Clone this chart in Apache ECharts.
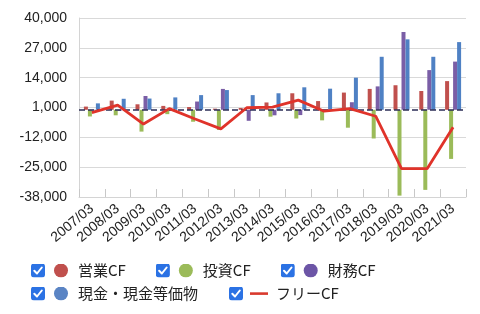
<!DOCTYPE html>
<html>
<head>
<meta charset="utf-8">
<script src="https://cdn.jsdelivr.net/npm/echarts@6/dist/echarts.min.js"></script>
<style>
html,body{margin:0;padding:0;background:#fff;}
#chart{width:480px;height:314px;}
</style>
</head>
<body>
<div id="chart"></div>
<script>
const categories = ['2007/03','2008/03','2009/03','2010/03','2011/03','2012/03','2013/03','2014/03','2015/03','2016/03','2017/03','2018/03','2019/03','2020/03','2021/03'];
const operatingCF = [1400, 4000, 2400, 1700, 1200, 500, 800, 3200, 7200, 3800, 7500, 9100, 10700, 8200, 12500];
const investingCF = [-2900, -2400, -9500, -1900, -5200, -8800, -200, -3000, -3800, -4600, -7800, -12500, -37400, -34900, -21400];
const financingCF = [-300, -400, 6000, -300, 3600, 9100, -4800, -2400, -2300, -500, 3300, 10200, 33900, 17300, 21000];
const cashEq = [2800, 4800, 4900, 5400, 6400, 8600, 6400, 7200, 9800, 9200, 14000, 23100, 30700, 23100, 29500];
const freeCF = [-1200, 2000, -6200, 500, -4000, -8300, 900, 1200, 4200, -600, 500, -2800, -25600, -25600, -7600];
const yTicks = {min: -38000, max: 40000, interval: 13000};

const CB = '#2b72e4';
function svgIcon(inner){
  const svg = '<svg xmlns="http://www.w3.org/2000/svg" width="42" height="14" viewBox="0 0 42 14">' +
    '<rect x="0" y="0" width="14" height="14" rx="3" ry="3" fill="' + CB + '"/>' +
    '<polyline points="3.3,7.3 6,10 10.8,4" fill="none" stroke="#fff" stroke-width="2" stroke-linecap="round" stroke-linejoin="round"/>' +
    inner + '</svg>';
  return 'image://data:image/svg+xml;charset=utf-8,' + encodeURIComponent(svg);
}
function dotIcon(c){ return svgIcon('<circle cx="30" cy="7" r="7" fill="' + c + '"/>'); }
function lineIcon(c){ return svgIcon('<rect x="21" y="5.8" width="18" height="2.6" fill="' + c + '"/>'); }

const colors = {op:'#c0504d', inv:'#9bbb59', fin:'#7a5ea6', cash:'#4f81c4', free:'#e0332a'};
const legendText = {fontSize: 15, color: '#222', fontFamily: '"Noto Sans CJK JP", sans-serif'};

const chart = echarts.init(document.getElementById('chart'), null, {renderer: 'canvas'});
chart.setOption({
  animation: false,
  textStyle: {fontFamily: '"Liberation Sans", Arial, sans-serif'},
  grid: {left: 79, right: 14, top: 18, bottom: 117},
  legend: [{
    left: 31, top: 263, padding: 0, itemGap: 30, itemWidth: 42, itemHeight: 14,
    textStyle: legendText, selectedMode: false,
    data: [
      {name: '営業CF', icon: dotIcon('#c0504d')},
      {name: '投資CF', icon: dotIcon('#9bbb59')},
      {name: '財務CF', icon: dotIcon('#6c55a6')}
    ]
  }, {
    left: 31, top: 286, padding: 0, itemGap: 31, itemWidth: 42, itemHeight: 14,
    textStyle: legendText, selectedMode: false,
    data: [
      {name: '現金・現金等価物', icon: dotIcon('#5a84c4')},
      {name: 'フリーCF', icon: lineIcon('#d93a2e')}
    ]
  }],
  xAxis: {
    type: 'category',
    data: categories,
    boundaryGap: true,
    axisLine: {onZero: false, lineStyle: {color: '#d4d4d4', width: 1}},
    axisTick: {show: true, inside: true, length: 8, lineStyle: {color: '#c8c8c8'}},
    axisLabel: {rotate: 40, fontSize: 14, color: '#222', margin: 10, interval: 0}
  },
  yAxis: {
    type: 'value',
    min: yTicks.min, max: yTicks.max, interval: yTicks.interval,
    axisLine: {show: true, lineStyle: {color: '#d4d4d4'}},
    axisTick: {show: false},
    splitLine: {lineStyle: {color: '#d9d9d9', width: 1}},
    axisLabel: {fontSize: 14, color: '#222', margin: 12,
      formatter: v => v.toLocaleString('en-US')}
  },
  series: [
    {name: '営業CF', type: 'bar', data: operatingCF, barWidth: 4, barGap: '0%',
     itemStyle: {color: colors.op},
     markLine: {silent: true, symbol: 'none', label: {show: false},
       lineStyle: {color: '#2b2d55', type: [6, 3], width: 1.5},
       data: [{yAxis: 0}]}},
    {name: '投資CF', type: 'bar', data: investingCF, barWidth: 4, barGap: '0%', itemStyle: {color: colors.inv}},
    {name: '財務CF', type: 'bar', data: financingCF, barWidth: 4, barGap: '0%', itemStyle: {color: colors.fin}},
    {name: '現金・現金等価物', type: 'bar', data: cashEq, barWidth: 4, barGap: '0%', itemStyle: {color: colors.cash}},
    {name: 'フリーCF', type: 'line', data: freeCF, symbol: 'none', z: 5,
     lineStyle: {color: colors.free, width: 2.8}, itemStyle: {color: colors.free}}
  ]
});
</script>
</body>
</html>
